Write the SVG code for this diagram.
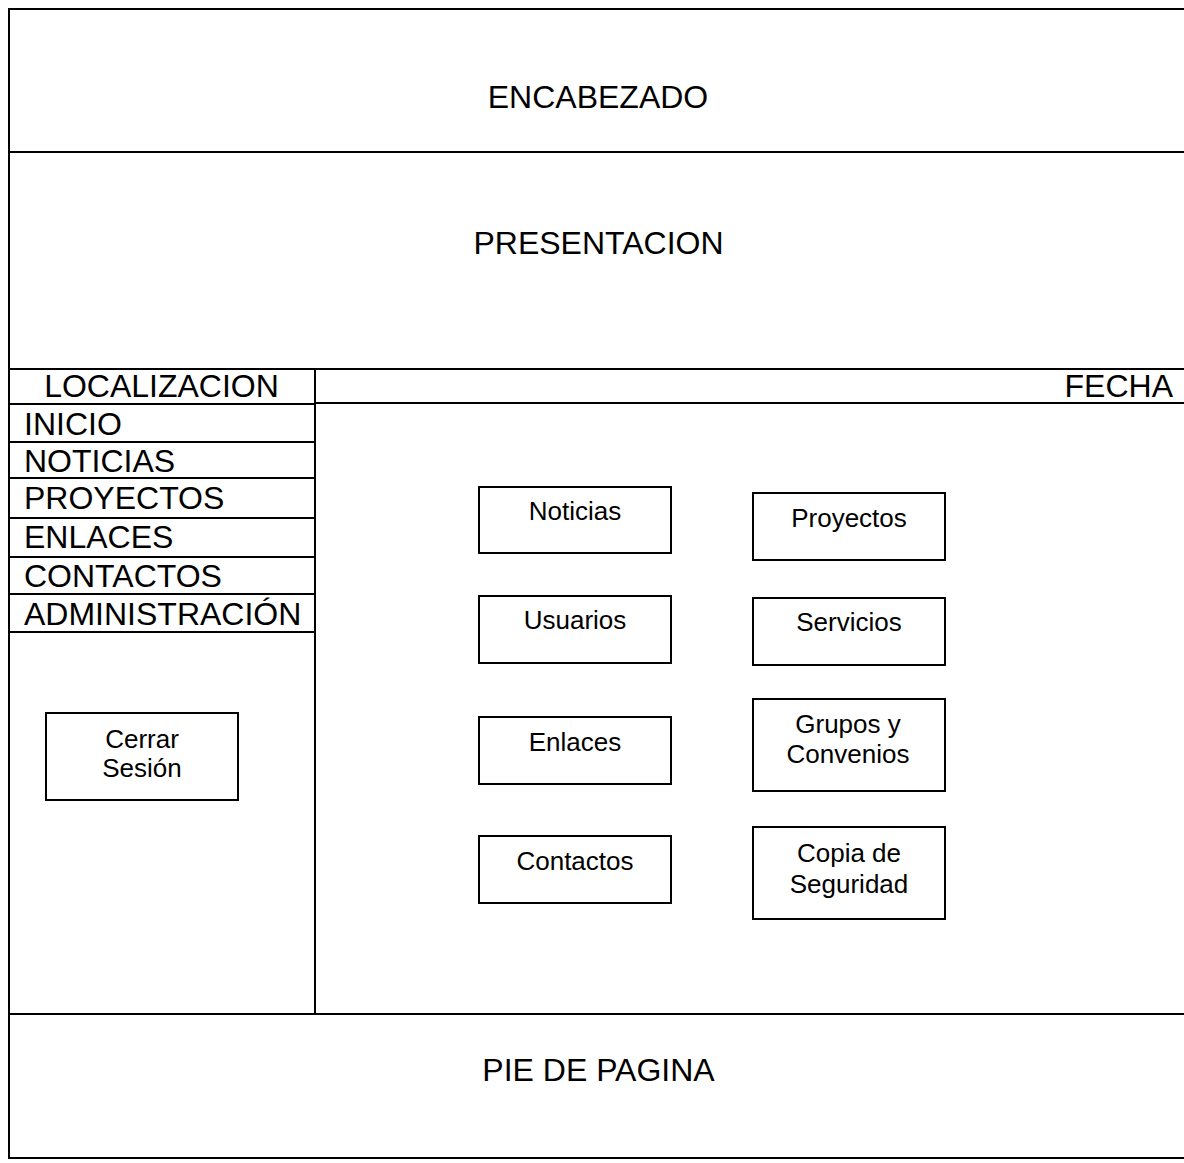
<svg xmlns="http://www.w3.org/2000/svg" width="1184" height="1163" viewBox="0 0 1184 1163">
<style>
.ln{stroke:#000;stroke-width:2;fill:none}
.bx{stroke:#000;stroke-width:2;fill:#fff}
.big{font-family:"Liberation Sans",Arial,sans-serif;font-size:32px;fill:#000}
.menu{font-family:"Liberation Sans",Arial,sans-serif;font-size:32px;fill:#000}
.sm{font-family:"Liberation Sans",Arial,sans-serif;font-size:26px;fill:#000;text-anchor:middle}
</style>
<rect width="1184" height="1163" fill="#fff"/>
<g id="layout">
<line class="ln" x1="9" y1="8" x2="9" y2="1159"/>
<line class="ln" x1="8" y1="9" x2="1184" y2="9"/>
<line class="ln" x1="8" y1="152" x2="1184" y2="152"/>
<line class="ln" x1="8" y1="369" x2="1184" y2="369"/>
<line class="ln" x1="8" y1="404" x2="315" y2="404"/>
<line class="ln" x1="315" y1="403" x2="1184" y2="403"/>
<line class="ln" x1="315" y1="369" x2="315" y2="1014"/>
<line class="ln" x1="8" y1="442" x2="315" y2="442"/>
<line class="ln" x1="8" y1="478" x2="315" y2="478"/>
<line class="ln" x1="8" y1="518" x2="315" y2="518"/>
<line class="ln" x1="8" y1="557" x2="315" y2="557"/>
<line class="ln" x1="8" y1="594" x2="315" y2="594"/>
<line class="ln" x1="8" y1="632" x2="315" y2="632"/>
<line class="ln" x1="8" y1="1014" x2="1184" y2="1014"/>
<line class="ln" x1="8" y1="1158" x2="1184" y2="1158"/>
</g>
<g id="encabezado"><text class="big" x="598" y="108" text-anchor="middle">ENCABEZADO</text></g>
<g id="presentacion"><text class="big" x="598.5" y="254" text-anchor="middle">PRESENTACION</text></g>
<g id="localizacion"><text class="big" x="161.5" y="397" text-anchor="middle">LOCALIZACION</text></g>
<g id="fecha"><text class="big" x="1173" y="397" text-anchor="end">FECHA</text></g>
<g id="menu">
<text class="menu" x="24" y="435">INICIO</text>
<text class="menu" x="24" y="472">NOTICIAS</text>
<text class="menu" x="24" y="509">PROYECTOS</text>
<text class="menu" x="24" y="548">ENLACES</text>
<text class="menu" x="24" y="587">CONTACTOS</text>
<text class="menu" x="24" y="625">ADMINISTRACIÓN</text>
</g>
<g id="pie"><text class="big" x="598.5" y="1081" text-anchor="middle">PIE DE PAGINA</text></g>
<g id="cerrar">
<rect class="bx" x="46" y="713" width="192" height="87"/>
<text class="sm" x="142" y="748">Cerrar</text>
<text class="sm" x="142" y="777">Sesión</text>
</g>
<g id="noticias">
<rect class="bx" x="479" y="487" width="192" height="66"/>
<text class="sm" x="575" y="520">Noticias</text>
</g>
<g id="proyectos">
<rect class="bx" x="753" y="493" width="192" height="67"/>
<text class="sm" x="849" y="527">Proyectos</text>
</g>
<g id="usuarios">
<rect class="bx" x="479" y="596" width="192" height="67"/>
<text class="sm" x="575" y="629">Usuarios</text>
</g>
<g id="servicios">
<rect class="bx" x="753" y="598" width="192" height="67"/>
<text class="sm" x="849" y="631">Servicios</text>
</g>
<g id="enlaces">
<rect class="bx" x="479" y="717" width="192" height="67"/>
<text class="sm" x="575" y="751">Enlaces</text>
</g>
<g id="grupos">
<rect class="bx" x="753" y="699" width="192" height="92"/>
<text class="sm" x="848" y="733">Grupos y</text>
<text class="sm" x="848" y="763">Convenios</text>
</g>
<g id="contactos">
<rect class="bx" x="479" y="836" width="192" height="67"/>
<text class="sm" x="575" y="870">Contactos</text>
</g>
<g id="copia">
<rect class="bx" x="753" y="827" width="192" height="92"/>
<text class="sm" x="849" y="862">Copia de</text>
<text class="sm" x="849" y="893">Seguridad</text>
</g>
</svg>
